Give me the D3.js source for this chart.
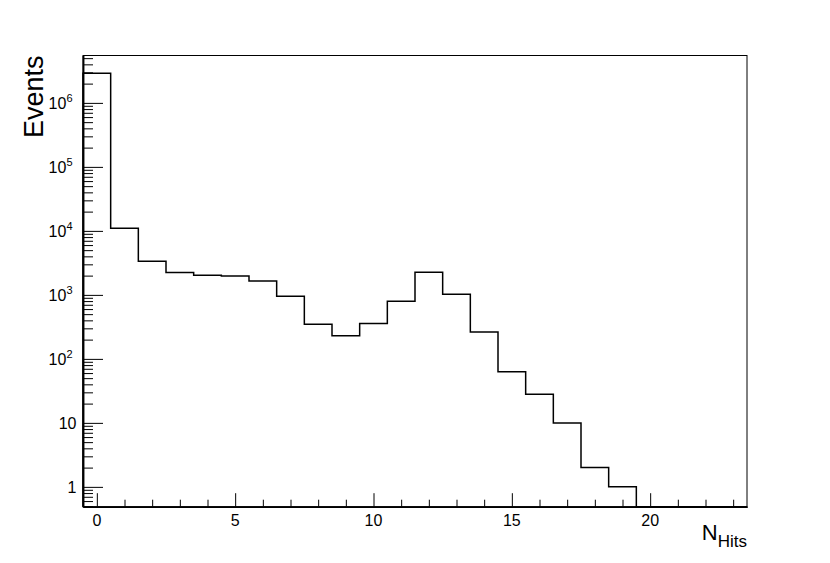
<!DOCTYPE html>
<html>
<head>
<meta charset="utf-8">
<script src="https://cdn.jsdelivr.net/npm/d3@7"></script>
<style>
  body { margin: 0; background: #fff; }
  text { font-family: "Liberation Sans", Arial, Helvetica, sans-serif; fill: #000; }
</style>
</head>
<body>
<div id="chart"></div>
<script>
// bin centres (number of hits) and event counts per bin
const nHits = [0, 1, 2, 3, 4, 5, 6, 7, 8, 9, 10, 11, 12, 13, 14, 15, 16, 17, 18, 19, 20, 21, 22, 23];
const events = [2900000, 11000, 3360, 2230, 2030, 1980, 1655, 955, 348, 229, 356, 797,
                2263, 1025, 264, 63, 28, 10, 2, 1, 0, 0, 0, 0];

const xMajor = [0, 5, 10, 15, 20];
const xMinor = [1, 2, 3, 4, 6, 7, 8, 9, 11, 12, 13, 14, 16, 17, 18, 19, 21, 22, 23];
const yMajor = [1, 10, 100, 1000, 10000, 100000, 1000000];
const yLabels = ["1", "10", "10^2", "10^3", "10^4", "10^5", "10^6"];

const width = 830, height = 563;
const frame = { left: 83, right: 747, top: 55.5, bottom: 506.7 };

const svg = d3.select("#chart")
    .append("svg")
    .attr("width", width)
    .attr("height", height);

const x = d3.scaleLinear()
    .domain([-0.5, 23.5])
    .range([frame.left, frame.right]);

const y = d3.scaleLog()
    .domain([0.49, 5.5e6])
    .range([frame.bottom, frame.top]);

// minor log ticks: 2..9 x 10^k inside the visible range
const yMinor = [];
for (let k = -1; k <= 6; k++) {
    for (let m = 2; m <= 9; m++) {
        const v = m * Math.pow(10, k);
        if (v >= y.domain()[0] && v <= y.domain()[1]) yMinor.push(v);
    }
}

// frame
svg.append("rect")
    .attr("x", frame.left)
    .attr("y", frame.top)
    .attr("width", frame.right - frame.left)
    .attr("height", frame.bottom - frame.top)
    .attr("fill", "none")
    .attr("stroke", "#000")
    .attr("stroke-width", 1);

// histogram as a step line
const ymin = y.domain()[0];
const pts = [[-0.5, ymin]];
events.forEach((v, i) => {
    const val = v > 0 ? v : ymin;
    pts.push([nHits[i] - 0.5, val]);
    pts.push([nHits[i] + 0.5, val]);
});
pts.push([23.5, ymin]);

const line = d3.line()
    .x(d => x(d[0]))
    .y(d => y(d[1]));

svg.append("path")
    .datum(pts)
    .attr("d", line)
    .attr("fill", "none")
    .attr("stroke", "#000")
    .attr("stroke-width", 1.5);

// x axis
const xAxisMajor = svg.append("g")
    .attr("transform", `translate(0,${frame.bottom})`)
    .call(d3.axisBottom(x).tickValues(xMajor).tickSizeInner(-13.5).tickSizeOuter(0).tickFormat(""));
const xAxisMinor = svg.append("g")
    .attr("transform", `translate(0,${frame.bottom})`)
    .call(d3.axisBottom(x).tickValues(xMinor).tickSizeInner(-7).tickSizeOuter(0).tickFormat(""));

// y axis
const yAxisMajor = svg.append("g")
    .attr("transform", `translate(${frame.left},0)`)
    .call(d3.axisLeft(y).tickValues(yMajor).tickSizeInner(-20).tickSizeOuter(0).tickFormat(""));
const yAxisMinor = svg.append("g")
    .attr("transform", `translate(${frame.left},0)`)
    .call(d3.axisLeft(y).tickValues(yMinor).tickSizeInner(-10).tickSizeOuter(0).tickFormat(""));

svg.selectAll(".domain").attr("stroke", "#000").attr("stroke-width", 1.5);
svg.selectAll(".tick line").attr("stroke", "#000").attr("stroke-width", 1);

// x tick labels
svg.selectAll(".xlab")
    .data(xMajor)
    .enter().append("text")
    .attr("class", "xlab")
    .attr("x", d => x(d))
    .attr("y", 525.5)
    .attr("text-anchor", "middle")
    .style("font-size", "16px")
    .text(d => d);

// y tick labels (with superscript exponents)
yMajor.forEach((v, i) => {
    const lab = yLabels[i];
    const t = svg.append("text")
        .attr("y", y(v) + 6)
        .attr("text-anchor", "end")
        .style("font-size", "16px");
    if (lab.includes("^")) {
        const [base, exp] = lab.split("^");
        t.attr("x", 72.5);
        t.append("tspan").text(base);
        t.append("tspan").attr("dy", -7).style("font-size", "11px").text(exp);
    } else {
        t.attr("x", 76.5).text(lab);
    }
});

// axis titles
svg.append("text")
    .attr("transform", `translate(42.5,${frame.top}) rotate(-90)`)
    .attr("text-anchor", "end")
    .style("font-size", "27px")
    .text("Events");

const xt = svg.append("text")
    .attr("x", frame.right)
    .attr("y", 540)
    .attr("text-anchor", "end")
    .style("font-size", "22px");
xt.append("tspan").text("N");
xt.append("tspan").attr("dy", 7).style("font-size", "17px").text("Hits");
</script>
</body>
</html>
